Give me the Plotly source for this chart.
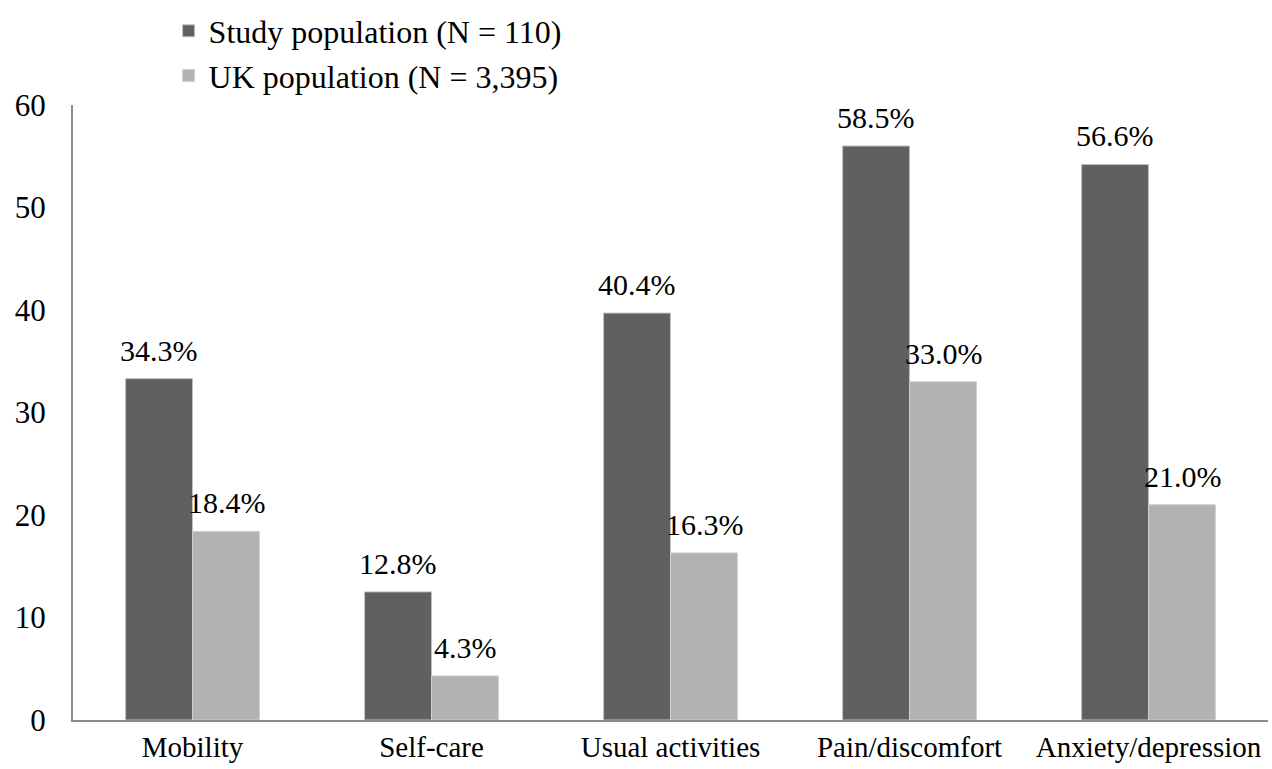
import plotly.graph_objects as go

categories = ["Mobility", "Self-care", "Usual activities", "Pain/discomfort", "Anxiety/depression"]
study_values = [33.3, 12.5, 39.7, 56.0, 54.2]
study_labels = ["34.3%", "12.8%", "40.4%", "58.5%", "56.6%"]
uk_values = [18.4, 4.3, 16.3, 33.0, 21.0]
uk_labels = ["18.4%", "4.3%", "16.3%", "33.0%", "21.0%"]
y_ticks = [0, 10, 20, 30, 40, 50, 60]

FONT = "Liberation Serif, Times New Roman, serif"
DARK = "#606060"
LIGHT = "#b2b2b2"

fig = go.Figure()
fig.add_trace(go.Bar(name="Study population (N = 110)", x=categories, y=study_values,
                     marker=dict(color=DARK, line=dict(color="#c0c0c0", width=1))))
fig.add_trace(go.Bar(name="UK population (N = 3,395)", x=categories, y=uk_values,
                     marker=dict(color=LIGHT, line=dict(color="#d0d0d0", width=1))))

annotations = []
for i, c in enumerate(categories):
    annotations.append(dict(x=c, y=study_values[i], text=study_labels[i], showarrow=False,
                            xshift=-34, yshift=10, yanchor="bottom",
                            font=dict(family=FONT, size=30, color="black")))
    annotations.append(dict(x=c, y=uk_values[i], text=uk_labels[i], showarrow=False,
                            xshift=34, yshift=10, yanchor="bottom",
                            font=dict(family=FONT, size=30, color="black")))

fig.update_layout(
    width=1272, height=769,
    margin=dict(l=73, r=4, t=105, b=49),
    paper_bgcolor="white", plot_bgcolor="white",
    barmode="group", bargap=0.44, bargroupgap=0,
    font=dict(family=FONT, size=29, color="black"),
    annotations=annotations,
    legend=dict(x=0.08, y=1.165, xanchor="left", yanchor="top",
                font=dict(family=FONT, size=32, color="black"),
                bgcolor="rgba(0,0,0,0)", tracegroupgap=0),
    showlegend=True,
)
fig.update_xaxes(showline=True, linecolor="#8c8c8c", linewidth=2, showgrid=False,
                 ticks="", tickfont=dict(family=FONT, size=29, color="black"))
fig.update_yaxes(range=[0, 60], tickvals=y_ticks, showline=True, linecolor="#8c8c8c",
                 linewidth=2, showgrid=False, zeroline=False, ticks="",
                 ticklabelstandoff=19,
                 tickfont=dict(family=FONT, size=31, color="black"))

fig.write_html("out.html")
